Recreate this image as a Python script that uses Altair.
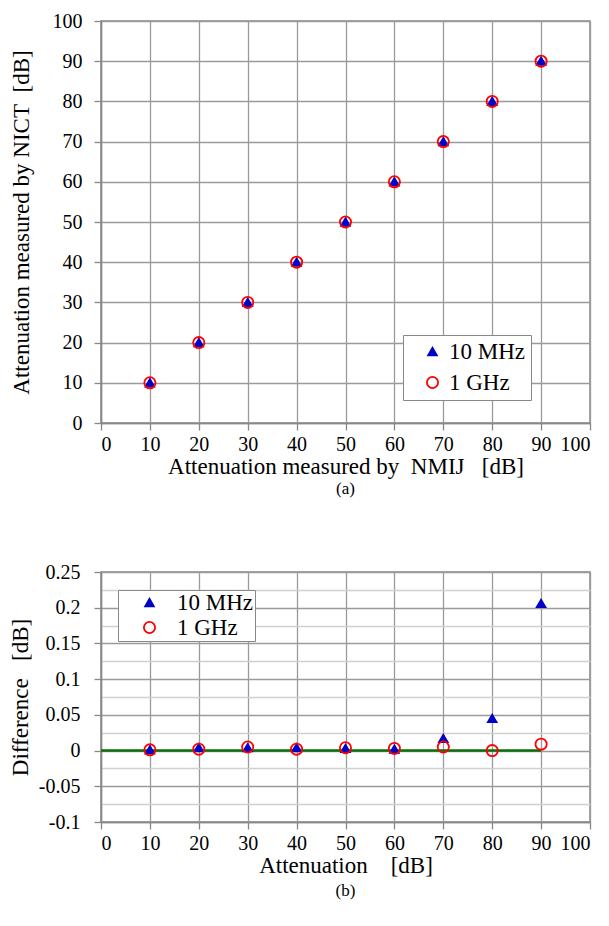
import altair as alt
import pandas as pd

series = ["10 MHz", "1 GHz"]
nmij = [10, 20, 30, 40, 50, 60, 70, 80, 90]
nict_10mhz = [10, 20, 30, 40, 50, 60, 70, 80, 90]
nict_1ghz = [10, 20, 30, 40, 50, 60, 70, 80, 90]
diff_10mhz = [0.001, 0.004, 0.004, 0.004, 0.003, 0.002, 0.017, 0.045, 0.206]
diff_1ghz = [0.001, 0.002, 0.005, 0.002, 0.004, 0.003, 0.005, 0.0, 0.009]
zero_x = [0, 90]
zero_y = [0, 0]
x_ticks = [0, 10, 20, 30, 40, 50, 60, 70, 80, 90, 100]
y_ticks_a = [0, 10, 20, 30, 40, 50, 60, 70, 80, 90, 100]
y_ticks_b = [-0.1, -0.075, -0.05, -0.025, 0, 0.025, 0.05, 0.075, 0.1, 0.125, 0.15, 0.175, 0.2, 0.225, 0.25]

FONT = "Liberation Serif"
NB = "\u00a0"
TICK_FS = 20
TITLE_FS = 23
LEG_FS = 23

df_a = pd.DataFrame({
    "x": nmij + nmij,
    "y": nict_10mhz + nict_1ghz,
    "s": [series[0]] * len(nmij) + [series[1]] * len(nmij),
})
df_b = pd.DataFrame({
    "x": nmij + nmij,
    "y": diff_10mhz + diff_1ghz,
    "s": [series[0]] * len(nmij) + [series[1]] * len(nmij),
})
df_zero = pd.DataFrame({"x": zero_x, "y": zero_y})


def legend(x, y, pad, rowpad, symoff, laboff):
    return alt.Legend(
        title=None,
        orient="none", legendX=x, legendY=y,
        fillColor="white", strokeColor="#888888", padding=pad,
        labelFont=FONT, labelFontSize=LEG_FS, labelColor="black",
        rowPadding=rowpad, symbolOffset=symoff, labelOffset=laboff,
        symbolStrokeWidth=1.8,
    )


def point_layer(df, leg):
    return alt.Chart(df).mark_point(strokeWidth=1.8, opacity=1).encode(
        shape=alt.Shape("s:N", scale=alt.Scale(domain=series, range=["triangle-up", "circle"]), legend=leg),
        fill=alt.Fill("s:N", scale=alt.Scale(domain=series, range=["#0000c8", "transparent"]), legend=leg),
        stroke=alt.Stroke("s:N", scale=alt.Scale(domain=series, range=["#0000c8", "#ff0000"]), legend=leg),
        size=alt.Size("s:N", scale=alt.Scale(domain=series, range=[75, 125]), legend=leg),
        order=alt.Order("s:N", sort="descending"),
    )


def axis(**kw):
    return alt.Axis(labelFont=FONT, titleFont=FONT, labelFontSize=TICK_FS, titleFontSize=TITLE_FS,
                    titleFontWeight="normal", labelColor="black", titleColor="black", **kw)


x_axis_a = axis(values=x_ticks, title=f"Attenuation measured by{NB}{NB}NMIJ{NB}{NB}{NB}[dB]",
                labelPadding=4, titlePadding=1, format="d")
y_axis_a = axis(values=y_ticks_a, title=f"Attenuation measured by NICT{NB}{NB}[dB]",
                labelPadding=12, titlePadding=19, format="d")

pts_a = point_layer(df_a, legend(302, 314, 5, 7, 13, 5)).encode(
    x=alt.X("x:Q", scale=alt.Scale(domain=[0, 100], nice=False), axis=x_axis_a),
    y=alt.Y("y:Q", scale=alt.Scale(domain=[0, 100], nice=False), axis=y_axis_a),
)

chart_a = alt.layer(pts_a).properties(
    width=489, height=402,
    title=alt.TitleParams("(a)", orient="bottom", font=FONT, fontSize=17, fontWeight="normal", offset=3, color="black"),
)

minor_test = "round(datum.value*1000) % 50 != 0"
x_axis_b = axis(values=x_ticks, title=f"Attenuation{NB}{NB}{NB}{NB}[dB]",
                labelPadding=4, titlePadding=1, format="d")
y_axis_b = axis(
    values=y_ticks_b, title=f"Difference{NB}{NB}{NB}[dB]",
    labelPadding=14, titlePadding=6, labelOverlap=False,
    labelExpr=f"{minor_test} ? '' : toString(round(datum.value*100)/100)",
    gridColor={"condition": {"test": minor_test, "value": "#d0d0d0"}, "value": "#9a9a9a"},
    tickOpacity={"condition": {"test": minor_test, "value": 0}, "value": 1},
)

zero_line = alt.Chart(df_zero).mark_line(color="#0a6e0a", strokeWidth=2.5).encode(
    x=alt.X("x:Q", scale=alt.Scale(domain=[0, 100], nice=False), axis=x_axis_b),
    y=alt.Y("y:Q", scale=alt.Scale(domain=[-0.1, 0.25], nice=False), axis=y_axis_b),
)
pts_b = point_layer(df_b, legend(17, 18, 1, 1, 19, 16)).encode(
    x=alt.X("x:Q", scale=alt.Scale(domain=[0, 100], nice=False), axis=x_axis_b),
    y=alt.Y("y:Q", scale=alt.Scale(domain=[-0.1, 0.25], nice=False), axis=y_axis_b),
)

chart_b = alt.layer(zero_line, pts_b).properties(
    width=489, height=250,
    title=alt.TitleParams("(b)", orient="bottom", font=FONT, fontSize=17, fontWeight="normal", offset=6, color="black"),
)

chart = alt.vconcat(chart_a, chart_b, spacing=63).resolve_scale(
    shape="independent", fill="independent", stroke="independent", size="independent",
    x="independent", y="independent",
).resolve_legend(
    shape="independent", fill="independent", stroke="independent", size="independent",
).properties(
    padding={"left": 0, "top": 2, "right": 5, "bottom": 5}
).configure(
    font=FONT
).configure_view(
    stroke="#888888", strokeWidth=1.5
).configure_axis(
    labelFont=FONT, titleFont=FONT,
    gridColor="#9a9a9a", gridWidth=1.3, domainColor="#888888", domainWidth=1.5,
    tickColor="#888888", tickSize=7, tickWidth=1.3,
).configure_legend(
    labelFont=FONT, titleFont=FONT
)

chart.save("out.html", embed_options={"renderer": "svg", "actions": False})
